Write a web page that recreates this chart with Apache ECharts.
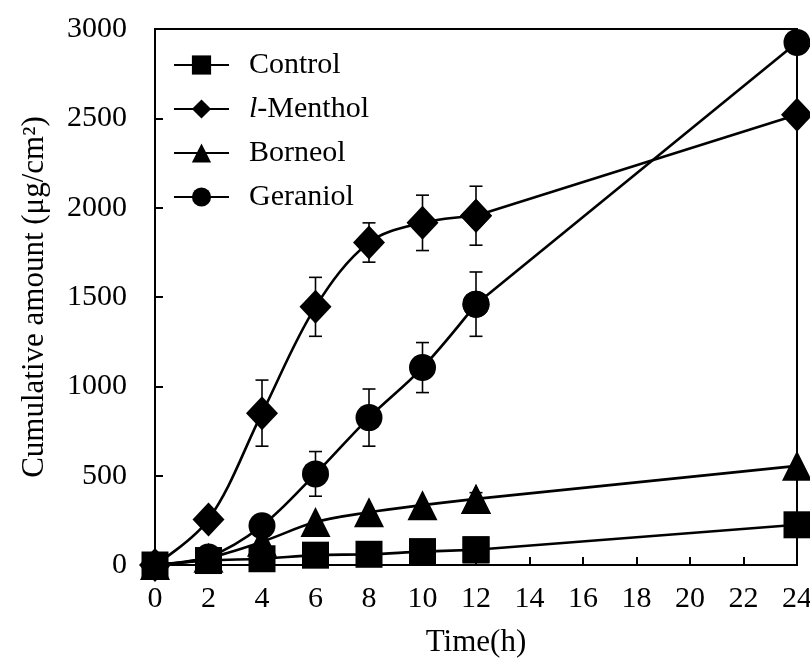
<!DOCTYPE html>
<html>
<head>
<meta charset="utf-8">
<script src="https://cdn.jsdelivr.net/npm/echarts@6/dist/echarts.min.js"></script>
<style>
  html, body { margin: 0; padding: 0; background: #fff; }
  #chart { width: 810px; height: 658px; }
</style>
</head>
<body>
<div id="chart"></div>
<script>
// values
const time = [0, 2, 4, 6, 8, 10, 12, 24];
const control = [0, 25, 35, 55, 60, 75, 85, 225];
const menthol = [0, 255, 850, 1445, 1805, 1915, 1955, 2520];
const borneol = [0, 40, 130, 240, 295, 335, 370, 555];
const geraniol = [0, 45, 220, 510, 825, 1105, 1460, 2925];

const mentholErr = [0, 0, 185, 165, 110, 155, 165, 0];
const geraniolErr = [0, 0, 0, 125, 160, 140, 180, 0];
const borneolErr = [0, 0, 0, 0, 0, 0, 35, 0];

const xTicks = [0, 2, 4, 6, 8, 10, 12, 14, 16, 18, 20, 22, 24];
const yTicks = [0, 500, 1000, 1500, 2000, 2500, 3000];

const FONT = "'Liberation Serif', 'Times New Roman', serif";

function pairs(ys) {
  return time.map((t, i) => [t, ys[i]]);
}

function errData(ys, errs) {
  const out = [];
  time.forEach((t, i) => {
    if (errs[i] > 0) out.push([t, ys[i], errs[i]]);
  });
  return out;
}

function errSeries(ys, errs) {
  return {
    type: 'custom',
    z: 1,
    silent: true,
    data: errData(ys, errs),
    renderItem: function (params, api) {
      const x = api.value(0), y = api.value(1), e = api.value(2);
      const top = api.coord([x, y + e]);
      const bot = api.coord([x, y - e]);
      const w = 6.5;
      const style = { stroke: '#000', lineWidth: 1.6 };
      return {
        type: 'group',
        children: [
          { type: 'line', shape: { x1: top[0], y1: top[1], x2: bot[0], y2: bot[1] }, style: style },
          { type: 'line', shape: { x1: top[0] - w, y1: top[1], x2: top[0] + w, y2: top[1] }, style: style },
          { type: 'line', shape: { x1: bot[0] - w, y1: bot[1], x2: bot[0] + w, y2: bot[1] }, style: style }
        ]
      };
    }
  };
}

// smooth curve over the 0-12 h points, straight segment to 24 h
function lineSeries(name, ys, symbol, size) {
  const pts = pairs(ys);
  return [{
    name: name,
    type: 'line',
    z: 3,
    data: pts.slice(0, 7),
    smooth: 0.35,
    symbol: symbol,
    symbolSize: size,
    showAllSymbol: true,
    lineStyle: { color: '#000', width: 2.6 },
    itemStyle: { color: '#000' },
    emphasis: { disabled: true }
  }, {
    name: name + ' (24 h)',
    type: 'line',
    z: 3,
    data: pts.slice(6),
    smooth: false,
    symbol: symbol,
    symbolSize: size,
    lineStyle: { color: '#000', width: 2.6 },
    itemStyle: { color: '#000' },
    emphasis: { disabled: true }
  }];
}

const chart = echarts.init(document.getElementById('chart'));
chart.setOption({
  animation: false,
  backgroundColor: '#fff',
  grid: {
    left: 155, right: 13, top: 29, bottom: 93,
    show: true, borderColor: '#000', borderWidth: 2,
    outerBoundsMode: 'none'
  },
  legend: {
    left: 173, top: 50, padding: 0,
    orient: 'vertical',
    itemWidth: 55, itemHeight: 24, itemGap: 14,
    data: ['Control', 'l-Menthol', 'Borneol', 'Geraniol'],
    formatter: function (name) {
      return name === 'l-Menthol' ? '{i|l}{n|-Menthol}' : '{n|' + name + '}';
    },
    textStyle: {
      fontFamily: FONT, fontSize: 30, color: '#000',
      padding: [0, 0, 0, 15],
      rich: {
        i: { fontFamily: FONT, fontSize: 30, fontStyle: 'italic', color: '#000' },
        n: { fontFamily: FONT, fontSize: 30, color: '#000' }
      }
    }
  },
  xAxis: {
    type: 'value',
    min: 0, max: 24, interval: 2,
    name: 'Time(h)',
    nameLocation: 'middle',
    nameGap: 62,
    nameTextStyle: { fontFamily: FONT, fontSize: 31, color: '#000' },
    axisLine: { lineStyle: { color: '#000', width: 2 } },
    axisTick: { inside: true, length: 8, lineStyle: { color: '#000', width: 2 } },
    axisLabel: {
      fontFamily: FONT, fontSize: 30, color: '#000', margin: 19,
      formatter: v => xTicks.includes(v) ? String(v) : ''
    },
    splitLine: { show: false }
  },
  yAxis: {
    type: 'value',
    min: 0, max: 3000, interval: 500,
    name: 'Cumulative amount (μg/cm²)',
    nameLocation: 'middle',
    nameGap: 105,
    nameTextStyle: { fontFamily: FONT, fontSize: 31, color: '#000' },
    axisLine: { lineStyle: { color: '#000', width: 2 } },
    axisTick: { inside: true, length: 8, lineStyle: { color: '#000', width: 2 } },
    axisLabel: {
      fontFamily: FONT, fontSize: 30, color: '#000', margin: 28,
      formatter: v => yTicks.includes(v) ? String(v) : ''
    },
    splitLine: { show: false }
  },
  series: [
    errSeries(menthol, mentholErr),
    errSeries(geraniol, geraniolErr),
    errSeries(borneol, borneolErr),
    ...lineSeries('Control', control, 'rect', 27),
    ...lineSeries('Borneol', borneol, 'triangle', 30),
    ...lineSeries('Geraniol', geraniol, 'circle', 27),
    ...lineSeries('l-Menthol', menthol, 'diamond', [32, 34])
  ]
});
</script>
</body>
</html>
